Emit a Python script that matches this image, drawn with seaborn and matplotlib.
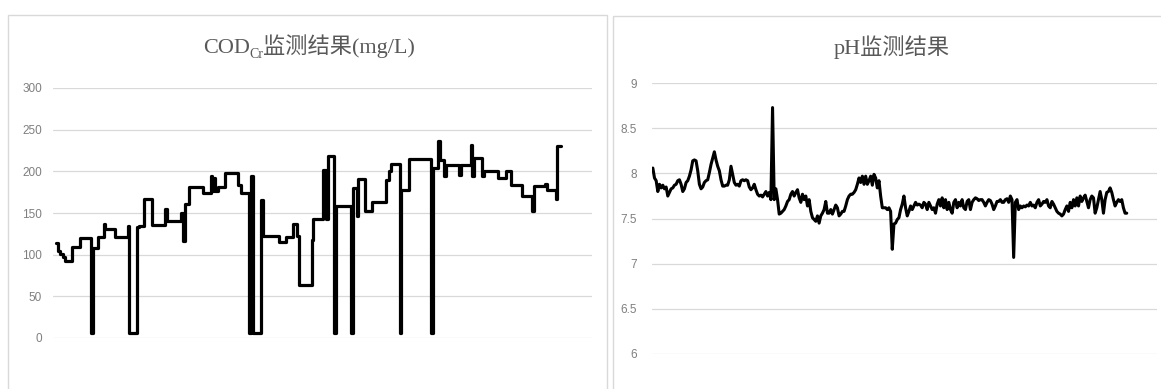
import numpy as np
import pandas as pd
import matplotlib
matplotlib.use("Agg")
import matplotlib.pyplot as plt
from matplotlib.patches import Rectangle
import seaborn as sns

# ---------------- data ----------------
# COD_Cr (mg/L): sample index where a new level starts, and the level value
cod_idx = [0, 2, 4, 7, 9, 16, 24, 35, 37, 42, 48, 49, 59, 72, 73, 81, 83, 88, 96, 109,
           111, 125, 127, 129, 133, 147, 155, 156, 158, 159, 162, 169, 182, 185, 193,
           195, 197, 205, 207, 223, 230, 237, 241, 243, 256, 257, 267, 270, 272, 278,
           280, 295, 297, 301, 302, 309, 316, 330, 333, 335, 344, 345, 353, 375, 377,
           382, 384, 388, 390, 403, 405, 415, 416, 418, 426, 428, 442, 450, 455, 466,
           476, 478, 489, 491, 500, 501, 505]
cod_val = [114, 105, 101, 97, 93, 109, 120, 6, 108, 121, 137, 131, 121, 134, 6, 133, 134, 167, 136, 155,
           140, 150, 117, 161, 181, 174, 194, 176, 192, 176, 181, 198, 184, 174, 6,
           194, 6, 166, 123, 115, 121, 137, 123, 64, 118, 143, 202, 143, 218, 6,
           158, 6, 180, 146, 191, 152, 163, 190, 200, 209, 6, 178, 215, 6, 204,
           236, 214, 194, 208, 196, 208, 232, 195, 216, 194, 201, 192, 201, 184, 170,
           153, 183, 185, 178, 167, 230, 230]

# pH readings (one per sample)
ph_vals = [
    8.06, 7.95, 7.92, 7.80, 7.88, 7.84, 7.87, 7.83, 7.85, 7.75, 7.79, 7.83, 7.84, 7.87, 7.88,
    7.92, 7.93, 7.88, 7.80, 7.83, 7.90, 7.92, 7.97, 8.04, 8.14, 8.15, 8.14, 8.03, 7.88, 7.83,
    7.85, 7.90, 7.92, 7.93, 8.01, 8.10, 8.17, 8.24, 8.15, 8.08, 8.03, 7.93, 7.86, 7.86, 7.87,
    7.87, 7.93, 8.08, 7.99, 7.90, 7.87, 7.88, 7.86, 7.92, 7.93, 7.92, 7.93, 7.92, 7.85, 7.82,
    7.84, 7.88, 7.82, 7.77, 7.75, 7.76, 7.74, 7.77, 7.80, 7.75, 7.79, 7.71, 8.73, 7.71, 7.83,
    7.71, 7.55, 7.56, 7.58, 7.60, 7.64, 7.69, 7.71, 7.77, 7.80, 7.75, 7.79, 7.82, 7.73, 7.68,
    7.77, 7.71, 7.75, 7.64, 7.71, 7.58, 7.51, 7.49, 7.47, 7.53, 7.45, 7.53, 7.56, 7.60, 7.69,
    7.56, 7.56, 7.60, 7.55, 7.60, 7.65, 7.62, 7.53, 7.55, 7.58, 7.58, 7.64, 7.71, 7.75, 7.77,
    7.77, 7.79, 7.82, 7.88, 7.95, 7.90, 7.97, 7.88, 7.97, 7.88, 7.92, 7.97, 7.87, 7.99, 7.95,
    7.84, 7.92, 7.75, 7.62, 7.62, 7.62, 7.60, 7.62, 7.58, 7.16,
    7.44, 7.45, 7.49, 7.51, 7.60, 7.66, 7.75, 7.62, 7.53, 7.58, 7.64, 7.60, 7.64, 7.68, 7.65,
    7.66, 7.65, 7.62, 7.68, 7.66, 7.60, 7.68, 7.64, 7.60, 7.62, 7.56, 7.66, 7.71, 7.64, 7.73,
    7.62, 7.71, 7.60, 7.68, 7.60, 7.56, 7.68, 7.71, 7.62, 7.68, 7.64, 7.71, 7.62, 7.60, 7.69,
    7.71, 7.60, 7.68, 7.71, 7.73, 7.72, 7.70, 7.71, 7.71, 7.68, 7.64, 7.68, 7.71, 7.70, 7.66,
    7.60, 7.64, 7.69, 7.69, 7.71, 7.68, 7.68, 7.71, 7.72, 7.68, 7.75, 7.71, 7.07, 7.68, 7.71,
    7.60, 7.64, 7.62, 7.64, 7.63, 7.65, 7.64, 7.68, 7.64, 7.65, 7.62, 7.68, 7.71, 7.64, 7.66,
    7.69, 7.68, 7.71, 7.64, 7.62, 7.69, 7.66, 7.62, 7.58, 7.56, 7.55, 7.53, 7.55, 7.60, 7.64,
    7.58, 7.68, 7.62, 7.71, 7.64, 7.73, 7.64, 7.75, 7.69, 7.73, 7.76, 7.69, 7.62, 7.71, 7.75,
    7.73, 7.56, 7.62, 7.71, 7.80, 7.71, 7.56, 7.71, 7.79, 7.80, 7.84, 7.79, 7.71, 7.64, 7.68,
    7.71, 7.69, 7.71, 7.62, 7.56, 7.56,
]
ph_idx = list(range(len(ph_vals)))

cod_ticks = [0, 50, 100, 150, 200, 250, 300]
ph_ticks = [6, 6.5, 7, 7.5, 8, 8.5, 9]
ph_ticklabels = ["6", "6.5", "7", "7.5", "8", "8.5", "9"]

# ---------------- style ----------------
sns.set_style("white")
W, H = 1161, 389
TITLE_FONT = ["Liberation Serif", "Noto Sans CJK SC"]
TICK_FONT = ["Liberation Sans", "DejaVu Sans"]
GRID = "#d9d9d9"
TXT = "#595959"
TICKC = "#7f7f7f"

fig = plt.figure(figsize=(W / 100, H / 100), dpi=100)
fig.patch.set_facecolor("white")

# chart frames
fig.patches.append(Rectangle((8 / W, -0.05), (607 - 8) / W, 1 - 15 / H + 0.05,
                             transform=fig.transFigure, fill=False, edgecolor="#d9d9d9", lw=1.0))
fig.patches.append(Rectangle((612.5 / W, -0.05), (1165 - 612.5) / W, 1 - 16 / H + 0.05,
                             transform=fig.transFigure, fill=False, edgecolor="#d9d9d9", lw=1.0))

ax1 = fig.add_axes([53 / W, 1 - 338 / H, (592 - 53) / W, (338 - 88) / H])
ax2 = fig.add_axes([652 / W, 1 - 354 / H, (1157 - 652) / W, (354 - 83.2) / H])

df_cod = pd.DataFrame({"idx": cod_idx, "cod": cod_val})
sns.lineplot(data=df_cod, x="idx", y="cod", ax=ax1, color="black", lw=2.3,
             drawstyle="steps-post", estimator=None, sort=False)
df_ph = pd.DataFrame({"idx": ph_idx, "ph": ph_vals})
sns.lineplot(data=df_ph, x="idx", y="ph", ax=ax2, color="black", lw=2.2,
             estimator=None, sort=False)

ax1.set_xlim(-2.6, 536.4)
ax1.set_ylim(0, 300)
ax1.set_yticks(cod_ticks)
ax1.set_yticklabels([str(t) for t in cod_ticks])
ax2.set_xlim(-0.5, 303.2)
ax2.set_ylim(6, 9)
ax2.set_yticks(ph_ticks)
ax2.set_yticklabels(ph_ticklabels)

for ax, pad in ((ax1, 8), (ax2, 11)):
    ax.set_xlabel("")
    ax.set_ylabel("")
    ax.set_xticks([])
    for s in ax.spines.values():
        s.set_visible(False)
    ax.grid(axis="y", color=GRID, lw=0.9)
    ax.set_axisbelow(True)
    ax.tick_params(axis="y", length=0, pad=pad, labelsize=8.5, labelcolor=TICKC)
    for lab in ax.get_yticklabels():
        lab.set_family(TICK_FONT)
    ax.set_facecolor("none")


def draw_title(xc_px, base_px, parts):
    renderer = fig.canvas.get_renderer()
    objs = []
    for s, size, dy in parts:
        t = fig.text(0, 0, s, fontsize=size, family=TITLE_FONT, color=TXT,
                     va="baseline", ha="left")
        objs.append((t, dy))
    widths = [t.get_window_extent(renderer).width for t, _ in objs]
    x = xc_px - sum(widths) / 2
    for (t, dy), w in zip(objs, widths):
        t.set_position((x / W, 1 - (base_px + dy) / H))
        x += w


draw_title(309, 53, [("COD", 16, 0), ("Cr", 10, 5), ("监测结果(mg/L)", 16, 0)])
draw_title(892, 54, [("pH监测结果", 16, 0)])

fig.savefig("out.png", dpi=100, facecolor="white")
